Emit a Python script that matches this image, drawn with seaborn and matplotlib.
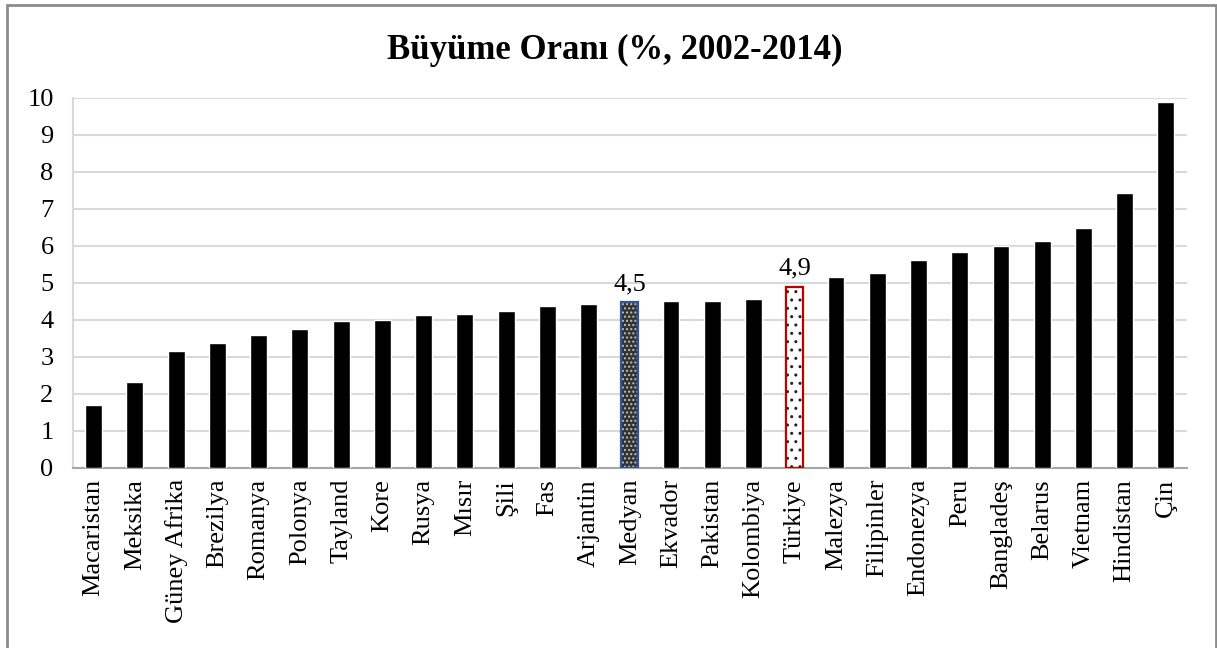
import matplotlib
matplotlib.use("Agg")
import matplotlib.pyplot as plt
import seaborn as sns
from matplotlib.patches import Rectangle

sns.set_theme(style="white")
plt.rcParams['font.family'] = ['Liberation Serif', 'DejaVu Serif']

# veriler
ulkeler = ['Macaristan', 'Meksika', 'Güney Afrika', 'Brezilya', 'Romanya', 'Polonya',
           'Tayland', 'Kore', 'Rusya', 'Mısır', 'Şili', 'Fas', 'Arjantin', 'Medyan',
           'Ekvador', 'Pakistan', 'Kolombiya', 'Türkiye', 'Malezya', 'Filipinler',
           'Endonezya', 'Peru', 'Bangladeş', 'Belarus', 'Vietnam', 'Hindistan', 'Çin']
buyume = [1.70, 2.33, 3.16, 3.38, 3.58, 3.75,
          3.97, 4.00, 4.13, 4.15, 4.23, 4.37, 4.43, 4.47,
          4.51, 4.52, 4.56, 4.90, 5.16, 5.27,
          5.62, 5.83, 6.00, 6.13, 6.48, 7.43, 9.90]
etiketler = {'Medyan': '4,5', 'Türkiye': '4,9'}
y_ticks = list(range(0, 11))

TITLE = 'Büyüme Oranı (%, 2002-2014)'


def vurgula(ax, bar, face, hatch, hatch_col, edge):
	# tarama rengi kenar rengini takip ettiği için iki katman
	bar.set_facecolor(face)
	bar.set_edgecolor(hatch_col)
	bar.set_hatch(hatch)
	bar.set_linewidth(0)
	ax.add_patch(Rectangle((bar.get_x(), bar.get_y()), bar.get_width(), bar.get_height(),
	                       fill=False, edgecolor=edge, linewidth=1.6, zorder=bar.get_zorder() + 0.1))


def plot_buyume():
	fig = plt.figure(figsize=(12.17, 6.48), dpi=100)
	ax = fig.add_axes([0.060, 0.278, 0.915, 0.571])

	sns.barplot(x=ulkeler, y=buyume, color='black', width=0.41, saturation=1, ax=ax, zorder=3)

	bars = ax.patches
	i_med = ulkeler.index('Medyan')
	i_tr = ulkeler.index('Türkiye')
	plt.rcParams['hatch.linewidth'] = 1.2
	vurgula(ax, bars[i_med], '#333333', '....', '#bfbfbf', '#2f5597')
	vurgula(ax, bars[i_tr], 'white', '..', '#222222', '#c00000')

	for ad, txt in etiketler.items():
		i = ulkeler.index(ad)
		ax.annotate(txt, (i, buyume[i]), xytext=(0, 5), textcoords='offset points',
		            ha='center', va='bottom', fontsize=19, color='black')

	ax.set_ylim(0, 10)
	ax.set_xlim(-0.5, len(ulkeler) - 0.5)
	ax.set_yticks(y_ticks)
	ax.yaxis.grid(True, color='#d9d9d9', linewidth=1.5, zorder=0)
	ax.set_axisbelow(True)
	ax.tick_params(axis='both', labelsize=19, length=0, colors='black')
	ax.tick_params(axis='y', pad=14)
	ax.tick_params(axis='x', labelrotation=90, pad=8)
	ax.set_xlabel('')
	ax.set_ylabel('')

	for s in ['top', 'right']:
		ax.spines[s].set_visible(False)
	ax.spines['left'].set_color('#d9d9d9')
	ax.spines['left'].set_linewidth(1.5)
	ax.spines['bottom'].set_color('#a6a6a6')
	ax.spines['bottom'].set_linewidth(1.5)

	fig.text(0.505, 0.922, TITLE, ha='center', va='center', fontsize=25,
	         fontweight='bold', color='black')

	# dış çerçeve
	fig.patches.append(Rectangle((7 / 1217, -0.02), 1209 / 1217, 1.02 - 5 / 648,
	                             transform=fig.transFigure, fill=False,
	                             edgecolor='#8c8c8c', linewidth=2))

	fig.savefig('out.png', dpi=100)


def main():
	plot_buyume()


if __name__ == "__main__":
	main()
